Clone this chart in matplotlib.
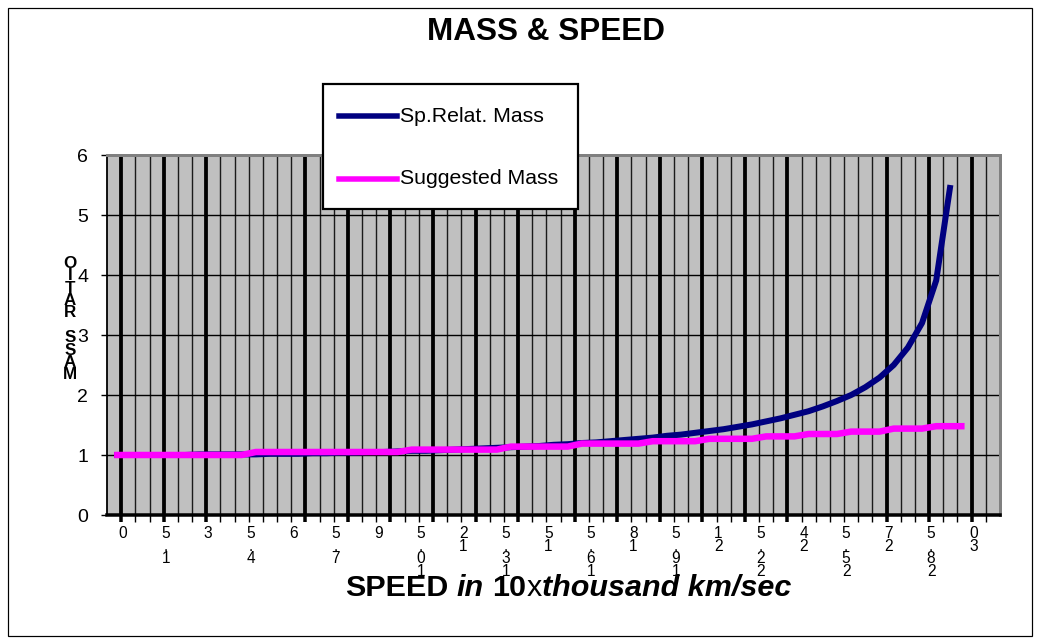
import matplotlib
matplotlib.use("Agg")
import matplotlib.pyplot as plt
from matplotlib.patches import Rectangle
from matplotlib.lines import Line2D

plt.rcParams['font.family'] = ['Liberation Sans', 'DejaVu Sans']

# ---------------- data ----------------
speeds = [0, 0.5, 1, 1.5, 2, 2.5, 3, 3.5, 4, 4.5, 5, 5.5, 6, 6.5, 7, 7.5, 8, 8.5, 9, 9.5,
          10, 10.5, 11, 11.5, 12, 12.5, 13, 13.5, 14, 14.5, 15, 15.5, 16, 16.5, 17, 17.5,
          18, 18.5, 19, 19.5, 20, 20.5, 21, 21.5, 22, 22.5, 23, 23.5, 24, 24.5, 25, 25.5,
          26, 26.5, 27, 27.5, 28, 28.5, 29, 29.5, 30]

rel_mass = [1.00, 1.00, 1.00, 1.00, 1.00, 1.00, 1.01, 1.01, 1.01, 1.01,
            1.01, 1.02, 1.02, 1.02, 1.03, 1.03, 1.04, 1.04, 1.05, 1.05,
            1.06, 1.07, 1.07, 1.08, 1.09, 1.10, 1.11, 1.12, 1.13, 1.14,
            1.15, 1.17, 1.18, 1.20, 1.21, 1.23, 1.25, 1.27, 1.29, 1.32,
            1.34, 1.37, 1.40, 1.43, 1.47, 1.51, 1.56, 1.61, 1.67, 1.73,
            1.81, 1.90, 2.00, 2.13, 2.29, 2.50, 2.79, 3.20, 3.91, 5.50]

sugg_mass = [1.00, 1.00, 1.00, 1.00, 1.00, 1.00, 1.00, 1.00, 1.00, 1.00,
             1.05, 1.05, 1.05, 1.05, 1.05, 1.05, 1.05, 1.05, 1.05, 1.05, 1.05,
             1.09, 1.09, 1.09, 1.09, 1.09, 1.09, 1.09,
             1.14, 1.14, 1.14, 1.14, 1.14,
             1.19, 1.19, 1.19, 1.19, 1.19,
             1.23, 1.23, 1.23, 1.23,
             1.27, 1.27, 1.27, 1.27,
             1.31, 1.31, 1.31,
             1.35, 1.35, 1.35,
             1.39, 1.39, 1.39,
             1.44, 1.44, 1.44,
             1.48, 1.48, 1.48]

series_names = ["Sp.Relat. Mass", "Suggested Mass"]
title_text = "MASS & SPEED"
y_ticks = [0, 1, 2, 3, 4, 5, 6]
x_tick_texts = ["0", "1.5", "3", "4.5", "6", "7.5", "9", "10.5", "12", "13.5", "15",
                "16.5", "18", "19.5", "21", "22.5", "24", "25.5", "27", "28.5", "30"]
y_title_letters = ["O", "I", "T", "A", "R", " ", "S", "S", "A", "M"]
x_title_pieces = [("SPEED", "bold", "normal"), ("in", "bold", "italic"),
                  ("10", "bold", "normal"), ("x", "normal", "normal"),
                  ("thousand km/sec", "bold", "italic")]

# ---------------- layout ----------------
W, H = 1040, 644
PT = 72 / 100.0  # points per pixel at dpi=100

fig = plt.figure(figsize=(W / 100, H / 100), dpi=100)
fig.patch.set_facecolor("white")

L, R, T, B = 107, 1000, 155, 515
ax = fig.add_axes([L / W, 1 - B / H, (R - L) / W, (B - T) / H])
ax.set_facecolor("#C0C0C0")

step = 0.5
x0 = speeds[0] - step / 2
ncat = 63
ax.set_xlim(x0, x0 + step * ncat)
ax.set_ylim(0, 6)

thick_k = [1, 4, 7, 14, 17, 20, 23, 26, 29, 33, 36, 39, 42, 45, 48, 55, 58, 61]
major_pos = [x0 + step * k for k in thick_k]
minor_pos = [x0 + step * k for k in range(1, ncat) if k not in thick_k]
ax.set_xticks(major_pos)
ax.set_xticks(minor_pos, minor=True)
ax.tick_params(axis='x', which='major', direction='out', length=7 * PT, width=3.5 * PT,
               color='black', labelbottom=False)
ax.tick_params(axis='x', which='minor', direction='out', length=7 * PT, width=1.4 * PT,
               color='black', labelbottom=False)
ax.xaxis.grid(True, which='major', color='black', linewidth=3.8 * PT)
ax.xaxis.grid(True, which='minor', color='#1a1a1a', linewidth=1.4 * PT)

ax.set_yticks(y_ticks)
ax.set_yticklabels([str(v) for v in y_ticks])
ax.tick_params(axis='y', direction='out', length=6 * PT, width=1.4 * PT, pad=13 * PT,
               labelsize=19.5 * PT, color='black')
ax.yaxis.grid(True, color='black', linewidth=1.4 * PT)

for side in ['top', 'right']:
    ax.spines[side].set_color('#808080')
    ax.spines[side].set_linewidth(3 * PT)
ax.spines['left'].set_color('black')
ax.spines['left'].set_linewidth(1.8 * PT)
ax.spines['bottom'].set_color('black')
ax.spines['bottom'].set_linewidth(3.5 * PT)

# data lines
ax.plot(speeds[:len(rel_mass)], rel_mass, color='#000080', linewidth=6 * PT,
        solid_joinstyle='miter', solid_capstyle='butt', zorder=3)
ax.plot(speeds[:len(sugg_mass)], sugg_mass, color='#FF00FF', linewidth=6.5 * PT,
        solid_joinstyle='miter', solid_capstyle='butt', zorder=4)

# garbled category labels (stacked characters)
for j, s in enumerate(x_tick_texts):
    xv = x0 + step * (1 + 3 * j)
    stacked = "\n".join(list(reversed(s)))
    ax.annotate(stacked, xy=(xv, 0), xycoords=('data', 'axes fraction'),
                xytext=(2 * PT, -11 * PT), textcoords='offset points',
                ha='center', va='top', fontsize=15.5 * PT, linespacing=0.8,
                annotation_clip=False)

# title
fig.text(546 / W, 1 - 32 / H, title_text, ha='center', va='center',
         fontsize=31.5 * PT, fontweight='bold')

# y title: stacked letters in one text
fig.text(70 / W, 1 - 256 / H, "\n".join(y_title_letters), ha='center', va='top',
         fontsize=17 * PT, fontweight='bold', linespacing=0.78,
         multialignment='center')

# x title composed of pieces
renderer = fig.canvas.get_renderer()
size_px = 30.5
texts, widths = [], []
for s, wgt, sty in x_title_pieces:
    t = fig.text(0, 0, s, fontsize=size_px * PT, fontweight=wgt, fontstyle=sty,
                 ha='left', va='baseline')
    bb = t.get_window_extent(renderer)
    texts.append(t)
    widths.append(bb.width)
gaps = [0.28 * size_px, 0.28 * size_px, 0.0, 0.0, 0.0]
total = sum(widths) + sum(gaps[:-1])
xpos = 568 - total / 2
for t, w, g in zip(texts, widths, gaps):
    t.set_position((xpos / W, 1 - 596 / H))
    xpos += w + g

# legend (manual, Excel style)
lx0, ly0, lx1, ly1 = 323, 84, 578, 209
fig.patches.append(Rectangle((lx0 / W, 1 - ly1 / H), (lx1 - lx0) / W, (ly1 - ly0) / H,
                             transform=fig.transFigure, facecolor='white',
                             edgecolor='black', linewidth=2.2 * PT, zorder=5))
colors = ['#000080', '#FF00FF']
rows = [116, 179]
for name, col, ry in zip(series_names, colors, rows):
    fig.lines.append(Line2D([339 / W, 397 / W], [1 - ry / H, 1 - ry / H],
                            transform=fig.transFigure, color=col,
                            linewidth=5.5 * PT, zorder=6))
    fig.text(400 / W, 1 - ry / H, name, ha='left', va='center',
             fontsize=21.3 * PT, zorder=6)

# outer chart border
fig.patches.append(Rectangle((8 / W, 1 - 636 / H), 1024 / W, 628 / H,
                             transform=fig.transFigure, facecolor='none',
                             edgecolor='black', linewidth=1.2 * PT, zorder=0))

fig.savefig('out.png', dpi=100)
